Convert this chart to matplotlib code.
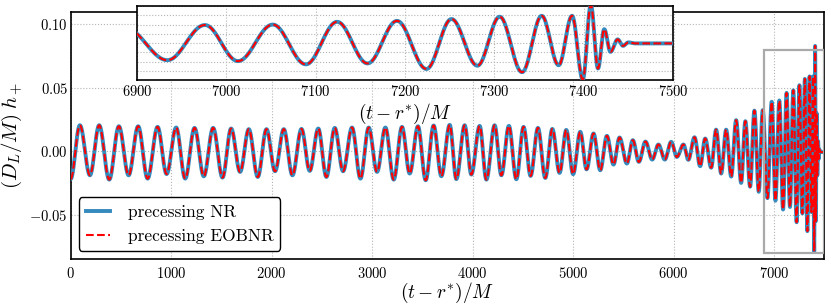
import numpy as np
import matplotlib
matplotlib.use("Agg")
import matplotlib.pyplot as plt
from matplotlib.patches import Rectangle

# extrema of h_+: (t - r*)/M and (D_L/M) h_+
peak_times = [92, 284, 480, 672, 865, 1050, 1233, 1418, 1597, 1773, 1949, 2121,
              2297, 2464, 2628, 2800, 2966, 3132, 3297, 3456, 3612, 3772, 3921,
              4070, 4219, 4361, 4507, 4650, 4793, 4932, 5071, 5203, 5336, 5462,
              5594, 5720, 5849, 5976, 6098, 6208, 6314, 6423, 6523, 6622, 6714,
              6804, 6887, 6976, 7052, 7124, 7191, 7252, 7306, 7353, 7387, 7408,
              7423, 7438, 7450]
peak_vals = [0.0205, 0.0205, 0.0197, 0.0197, 0.0192, 0.0187, 0.0184, 0.0184,
             0.0179, 0.0174, 0.0174, 0.0174, 0.0176, 0.0179, 0.0184, 0.0187,
             0.0187, 0.0187, 0.0192, 0.0197, 0.0203, 0.0208, 0.0205, 0.0200,
             0.0205, 0.0200, 0.0192, 0.0184, 0.0176, 0.0168, 0.0153, 0.0140,
             0.0121, 0.0108, 0.0087, 0.0076, 0.0053, 0.0074, 0.0053, 0.0110,
             0.0100, 0.0170, 0.0170, 0.0245, 0.0237, 0.0320, 0.0324, 0.0390,
             0.0400, 0.0460, 0.0480, 0.0520, 0.0570, 0.0590, 0.0590, 0.0830,
             0.0300, 0.0080, 0.0015]
trough_times = [0, 192, 384, 577, 766, 955, 1140, 1325, 1511, 1686, 1862, 2034,
                2207, 2379, 2545, 2711, 2884, 3049, 3215, 3374, 3533, 3689, 3838,
                3987, 4137, 4286, 4435, 4577, 4723, 4865, 5000, 5134, 5270, 5402,
                5535, 5654, 5787, 5912, 6032, 6146, 6264, 6374, 6473, 6573, 6672,
                6761, 6847, 6934, 7013, 7089, 7158, 7224, 7281, 7331, 7372, 7399,
                7416, 7430, 7444, 7458, 7500]
trough_vals = [-0.0220, -0.0190, -0.0224, -0.0190, -0.0216, -0.0180, -0.0216,
               -0.0198, -0.0208, -0.0163, -0.0203, -0.0158, -0.0190, -0.0155,
               -0.0203, -0.0158, -0.0216, -0.0163, -0.0224, -0.0176, -0.0229,
               -0.0197, -0.0220, -0.0184, -0.0224, -0.0190, -0.0221, -0.0195,
               -0.0211, -0.0171, -0.0181, -0.0143, -0.0150, -0.0105, -0.0097,
               -0.0084, -0.0066, -0.0066, -0.0045, -0.0068, -0.0118, -0.0130,
               -0.0176, -0.0200, -0.0250, -0.0280, -0.0320, -0.0370, -0.0390,
               -0.0460, -0.0440, -0.0560, -0.0490, -0.0630, -0.0480, -0.0790,
               -0.0550, -0.0190, -0.0060, -0.0007, -0.0007]

main_xticks = [0, 1000, 2000, 3000, 4000, 5000, 6000, 7000]
main_yticks = [-0.05, 0.00, 0.05, 0.10]
inset_xticks = [6900, 7000, 7100, 7200, 7300, 7400, 7500]
inset_yticks = [-0.08, -0.06, -0.04, -0.02, 0.0, 0.02, 0.04, 0.06, 0.08]

NR_COLOR = "#348ABD"
EOB_COLOR = "#ff0000"


def join_extrema(times, vals, n=24):
    # smooth half-cycle between neighbouring extrema
    t_out, h_out = [times[0]], [vals[0]]
    for i in range(len(times) - 1):
        s = np.linspace(0, 1, n)[1:]
        w = (1 - np.cos(np.pi * s)) / 2
        t_out.extend(times[i] + (times[i + 1] - times[i]) * s)
        h_out.extend(vals[i] + (vals[i + 1] - vals[i]) * w)
    return np.array(t_out), np.array(h_out)


plt.rcParams.update({
    "font.family": "serif",
    "font.serif": ["cmr10"],
    "mathtext.fontset": "cm",
    "axes.formatter.use_mathtext": True,
})

ext_t = np.array(peak_times + trough_times, dtype=float)
ext_h = np.array(peak_vals + trough_vals)
order = np.argsort(ext_t)
t, h = join_extrema(ext_t[order], ext_h[order])


def draw_waves(ax):
    ax.plot(t, h, color=NR_COLOR, lw=2.8, label="precessing NR", zorder=3)
    ax.plot(t, h, color=EOB_COLOR, lw=1.5, ls="--", label="precessing EOBNR", zorder=4)
    ax.grid(True, ls=":", color="#b5b5b5", lw=0.8)
    for sp in ax.spines.values():
        sp.set_linewidth(1.2)
        sp.set_color("black")


fig = plt.figure(figsize=(8.31, 3.08), dpi=100)

ax = fig.add_axes([0.085, 0.159, 0.907, 0.803])
draw_waves(ax)
ax.set_xlim(0, 7500)
ax.set_ylim(-0.085, 0.11)
ax.set_xticks(main_xticks)
ax.set_yticks(main_yticks)
ax.tick_params(axis="both", length=0, labelsize=10.5)
ax.tick_params(axis="x", pad=5)
ax.tick_params(axis="y", pad=2)
ax.add_patch(Rectangle((inset_xticks[0], inset_yticks[0]),
                       inset_xticks[-1] - inset_xticks[0],
                       inset_yticks[-1] - inset_yticks[0],
                       fill=False, ec="#aaaaaa", lw=1.6, zorder=5))
ax.set_xlabel(r"$(t-r^{*})/M$", fontsize=14, labelpad=0)
ax.set_ylabel(r"$(D_L/M)\;h_+$", fontsize=15, labelpad=4)
leg = ax.legend(loc="lower left", bbox_to_anchor=(0.011, 0.034), borderaxespad=0,
                fontsize=12.5, handlelength=1.4, handletextpad=1.0,
                fancybox=True, framealpha=1)
leg.get_frame().set_edgecolor("black")
leg.get_frame().set_linewidth(1.0)

ins = fig.add_axes([0.1649, 0.740, 0.645, 0.2403])
draw_waves(ins)
ins.set_xlim(6900, 7500)
ins.set_ylim(-0.08, 0.08)
ins.set_xticks(inset_xticks)
ins.set_yticks(inset_yticks)
ins.set_yticklabels([])
ins.tick_params(axis="both", length=0, labelsize=10.5)
ins.tick_params(axis="x", pad=3)
ins.set_xlabel(r"$(t-r^{*})/M$", fontsize=14, labelpad=2)

fig.savefig("out.png", dpi=100)
